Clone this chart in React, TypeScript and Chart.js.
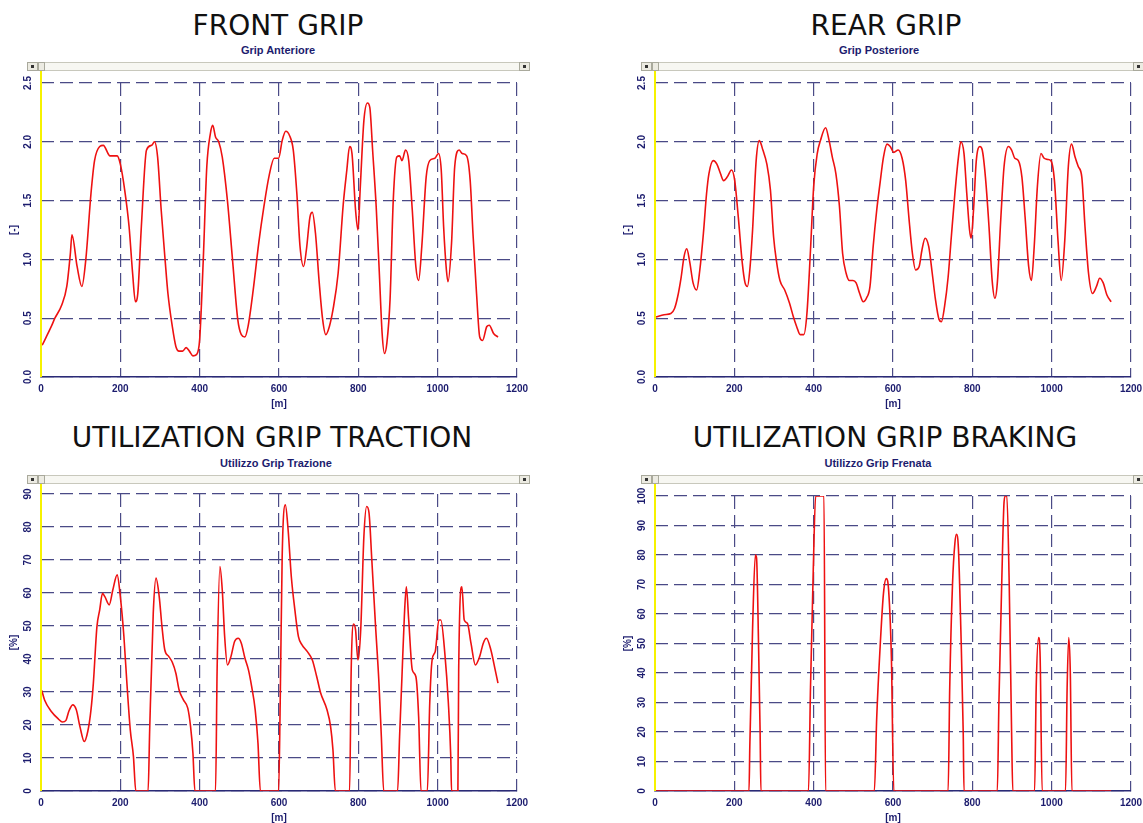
import React, { useEffect, useRef } from "react";
import { Chart, registerables } from "chart.js";

Chart.register(...registerables);

// ---------- data ----------
const xTickValues = [0, 200, 400, 600, 800, 1000, 1200];
const gripTicks = [0, 0.5, 1.0, 1.5, 2.0, 2.5];
const tractionTicks = [0, 10, 20, 30, 40, 50, 60, 70, 80, 90];
const brakingTicks = [0, 10, 20, 30, 40, 50, 60, 70, 80, 90, 100];

const frontDist = [
  3, 26, 35, 52, 65, 74, 78, 91, 103, 113,
  126, 135, 148, 157, 174, 192, 200, 211, 222, 231,
  238, 244, 253, 266, 279, 286, 294, 303, 313, 320,
  331, 340, 348, 357, 366, 374, 383, 392, 400, 409,
  418, 427, 433, 440, 448, 457, 470, 483, 496, 505,
  514, 522, 535, 549, 562, 575, 588, 599, 608, 617,
  627, 636, 645, 653, 662, 669, 678, 684, 692, 701,
  710, 718, 727, 736, 749, 762, 771, 778, 784, 793,
  799, 805, 814, 823, 829, 836, 845, 853, 860, 866,
  872, 880, 888, 897, 904, 910, 919, 927, 936, 945,
  952, 960, 971, 980, 993, 1002, 1009, 1015, 1022, 1026,
  1035, 1043, 1054, 1062, 1073, 1082, 1089, 1098, 1106, 1113,
  1124, 1130, 1141, 1152,
];
const frontGrip = [
  0.27, 0.43, 0.5, 0.61, 0.77, 1.05, 1.21, 0.94, 0.77, 1.0,
  1.56, 1.84, 1.96, 1.97, 1.88, 1.88, 1.81, 1.59, 1.28, 0.88,
  0.64, 0.71, 1.28, 1.93, 1.97, 2.0, 1.87, 1.42, 0.99, 0.71,
  0.43, 0.26, 0.22, 0.22, 0.25, 0.22, 0.18, 0.19, 0.32, 0.99,
  1.79, 2.07, 2.14, 2.04, 2.0, 1.87, 1.5, 0.99, 0.49, 0.36,
  0.34, 0.43, 0.74, 1.14, 1.45, 1.71, 1.86, 1.86, 2.01, 2.09,
  2.05, 1.93, 1.56, 1.11, 0.94, 1.08, 1.36, 1.4, 1.22, 0.82,
  0.49, 0.36, 0.43, 0.57, 0.88, 1.47, 1.76, 1.96, 1.9, 1.42,
  1.25, 1.62, 2.18, 2.33, 2.29, 1.93, 1.45, 0.88, 0.37, 0.2,
  0.29, 0.66, 1.5, 1.87, 1.88, 1.84, 1.93, 1.84, 1.42, 0.94,
  0.82, 1.11, 1.7, 1.84, 1.86, 1.9, 1.76, 1.28, 0.91, 0.81,
  1.14, 1.79, 1.93, 1.9, 1.88, 1.67, 1.22, 0.71, 0.34, 0.31,
  0.43, 0.44, 0.37, 0.34,
];

const rearDist = [
  2, 23, 40, 49, 57, 66, 73, 80, 87, 96,
  105, 113, 122, 130, 136, 147, 156, 165, 173, 182,
  193, 201, 210, 220, 227, 233, 239, 246, 255, 263,
  272, 282, 291, 299, 306, 315, 327, 339, 349, 357,
  366, 375, 383, 392, 400, 409, 417, 430, 439, 447,
  456, 465, 473, 482, 490, 499, 507, 516, 525, 533,
  542, 550, 559, 567, 576, 585, 593, 602, 613, 623,
  632, 640, 649, 657, 666, 673, 681, 690, 699, 707,
  716, 722, 730, 739, 747, 756, 765, 771, 779, 786,
  793, 797, 803, 810, 819, 825, 833, 842, 850, 857,
  863, 872, 880, 891, 899, 907, 916, 925, 933, 942,
  949, 956, 964, 973, 981, 990, 998, 1007, 1016, 1024,
  1033, 1042, 1050, 1059, 1067, 1076, 1084, 1093, 1103, 1113,
  1121, 1130, 1139, 1150,
];
const rearGrip = [
  0.51, 0.53, 0.54, 0.58, 0.68, 0.85, 1.02, 1.09, 0.99, 0.8,
  0.74, 0.91, 1.22, 1.56, 1.73, 1.84, 1.81, 1.73, 1.67, 1.7,
  1.76, 1.67, 1.36, 0.97, 0.8, 0.77, 0.91, 1.25, 1.84, 2.01,
  1.93, 1.81, 1.59, 1.19, 0.99, 0.82, 0.74, 0.63, 0.51, 0.43,
  0.36, 0.36, 0.54, 1.08, 1.62, 1.9, 2.01, 2.12, 2.01, 1.87,
  1.73, 1.45, 1.05, 0.88, 0.82, 0.82, 0.8, 0.71, 0.64, 0.67,
  0.77, 1.11, 1.42, 1.64, 1.87, 1.98, 1.96, 1.91, 1.93, 1.86,
  1.67, 1.36, 1.05, 0.91, 0.94, 1.08, 1.18, 1.11, 0.88, 0.66,
  0.49, 0.47, 0.6, 0.85, 1.19, 1.56, 1.87, 2.0, 1.9, 1.56,
  1.25, 1.18, 1.42, 1.84, 1.96, 1.93, 1.7, 1.28, 0.82, 0.67,
  0.8, 1.36, 1.79, 1.96, 1.93, 1.86, 1.84, 1.7, 1.36, 0.94,
  0.82, 1.11, 1.62, 1.9, 1.86, 1.85, 1.84, 1.67, 1.16, 0.82,
  1.16, 1.79, 1.98, 1.87, 1.79, 1.7, 1.28, 0.88, 0.71, 0.77,
  0.84, 0.8, 0.7, 0.64,
];

const tractionDist = [
  2, 9, 26, 44, 54, 63, 70, 80, 89, 98,
  109, 118, 126, 132, 141, 148, 155, 161, 172, 181,
  192, 200, 209, 216, 225, 233, 239, 270, 274, 283,
  290, 298, 305, 312, 322, 331, 340, 348, 359, 370,
  377, 383, 388, 440, 444, 451, 457, 463, 470, 479,
  488, 497, 505, 514, 523, 531, 540, 547, 553, 599,
  603, 608, 616, 623, 631, 640, 649, 658, 671, 684,
  695, 705, 721, 730, 736, 742, 778, 782, 788, 793,
  799, 806, 814, 821, 827, 834, 843, 852, 858, 864,
  899, 904, 910, 916, 921, 927, 936, 945, 952, 958,
  974, 980, 986, 994, 1003, 1008, 1018, 1027, 1033, 1035,
  1051, 1053, 1061, 1067, 1075, 1084, 1095, 1106, 1115, 1123,
  1134, 1145, 1152,
];
const tractionUse = [
  30.5, 27.6, 24.1, 21.8, 20.9, 21.4, 24.1, 26.1, 24.6, 19.6,
  15.0, 18.1, 24.6, 32.7, 49.8, 54.9, 59.9, 58.9, 56.4, 60.9,
  65.5, 58.9, 46.8, 33.7, 18.6, 10.5, 0, 0, 18.6, 53.9,
  64.5, 58.9, 49.8, 42.8, 40.8, 39.0, 35.7, 30.7, 27.6, 25.1,
  19.6, 11.5, 0, 0, 36.7, 68.0, 60.9, 46.8, 38.2, 40.8,
  45.3, 46.3, 44.8, 40.3, 36.7, 31.7, 24.6, 14.5, 0, 0,
  26.6, 71.0, 86.7, 79.1, 65.0, 54.9, 46.8, 44.3, 42.3, 39.7,
  34.7, 29.7, 24.6, 19.6, 12.5, 0, 0, 36.7, 50.6, 48.8,
  39.7, 48.8, 77.1, 86.2, 84.2, 70.0, 50.8, 32.7, 16.5, 0,
  0, 16.5, 34.7, 52.9, 61.9, 51.8, 36.7, 34.7, 22.6, 0,
  0, 26.6, 39.7, 42.3, 51.8, 51.8, 41.8, 26.6, 10.5, 0,
  0, 36.7, 61.9, 51.8, 50.8, 44.8, 38.2, 40.8, 44.8, 46.3,
  42.8, 36.7, 32.7,
];

const brakingDist = [
  0, 237, 239, 246, 253, 256, 261, 265, 267,
  387, 392, 399, 405, 426, 430,
  553, 559, 568, 576, 583, 589, 596, 602,
  739, 743, 750, 756, 760, 765, 771, 777, 779,
  863, 867, 874, 880, 883, 887, 893, 899, 902,
  957, 961, 967, 971, 976,
  1035, 1039, 1043, 1047, 1051, 1150,
];
const brakingUse = [
  0, 0, 15, 55, 80, 79, 50, 20, 0,
  0, 35, 75, 100, 100, 0,
  0, 25, 50, 67, 72, 68, 45, 0,
  0, 35, 70, 84, 87, 82, 55, 20, 0,
  0, 30, 70, 98, 100, 100, 70, 20, 0,
  0, 35, 52, 45, 0,
  0, 35, 52, 40, 0, 0,
];

// ---------- styles ----------
const RED = "#ee1111";
const GRID = "#4a4a86";
const AXIS = "#2a2a76";
const NAVY = "#1c1c6e";
const YELLOW = "#f6f200";
const TICK_FONT = "bold 10px 'Liberation Sans', Arial, sans-serif";
const DASH = [13, 6];

type PanelProps = {
  canvasLeft: number;
  canvasTop: number;
  canvasW: number;
  canvasH: number;
  plotLeft: number;
  plotRight: number;
  plotTop: number;
  plotBottom: number;
  xs: number[];
  ys: number[];
  yTicks: number[];
  decimals: number;
  yTitle: string;
};

function ChartPanel(p: PanelProps) {
  const ref = useRef<HTMLCanvasElement | null>(null);
  useEffect(() => {
    if (!ref.current) return;
    const leftW = p.plotLeft - p.canvasLeft;
    const padTop = p.plotTop - p.canvasTop;
    const padRight = p.canvasLeft + p.canvasW - p.plotRight;
    const bottomH = p.canvasTop + p.canvasH - p.plotBottom;
    const overlay = {
      id: "overlay",
      afterDatasetsDraw(chart: any) {
        const ctx = chart.ctx;
        const xs = chart.scales.x;
        const area = chart.chartArea;
        const x0 = xs.getPixelForValue(0);
        ctx.save();
        ctx.strokeStyle = YELLOW;
        ctx.lineWidth = 2;
        ctx.beginPath();
        ctx.moveTo(x0, 0);
        ctx.lineTo(x0, area.bottom);
        ctx.stroke();
        ctx.restore();
      },
      afterDraw(chart: any) {
        const ctx = chart.ctx;
        const xs = chart.scales.x;
        const ys = chart.scales.y;
        const area = chart.chartArea;
        ctx.save();
        ctx.fillStyle = NAVY;
        ctx.font = TICK_FONT;
        ctx.textAlign = "center";
        ctx.textBaseline = "middle";
        for (const v of p.yTicks) {
          const py = ys.getPixelForValue(v);
          ctx.save();
          ctx.translate(area.left - 13, py);
          ctx.rotate(-Math.PI / 2);
          ctx.fillText(v.toFixed(p.decimals), 0, 0);
          ctx.restore();
        }
        ctx.save();
        ctx.translate(area.left - 27, (area.top + area.bottom) / 2);
        ctx.rotate(-Math.PI / 2);
        ctx.fillText(p.yTitle, 0, 0);
        ctx.restore();
        for (const v of xTickValues) {
          ctx.fillText(String(v), xs.getPixelForValue(v), area.bottom + 12);
        }
        ctx.fillText("[m]", (area.left + area.right) / 2, area.bottom + 27);
        ctx.restore();
      },
    };
    const chart = new Chart(ref.current, {
      type: "line",
      data: {
        datasets: [
          {
            data: p.xs.map((x, i) => ({ x, y: p.ys[i] })),
            borderColor: RED,
            borderWidth: 1.6,
            pointRadius: 0,
            fill: false,
            cubicInterpolationMode: "monotone",
          } as any,
        ],
      },
      options: {
        animation: false,
        responsive: false,
        maintainAspectRatio: false,
        events: [],
        layout: { padding: { left: 0, top: padTop, right: padRight, bottom: 0 } },
        plugins: {
          legend: { display: false },
          tooltip: { enabled: false },
          title: { display: false },
        },
        scales: {
          x: {
            type: "linear",
            min: 0,
            max: 1200,
            afterBuildTicks: (s: any) => {
              s.ticks = xTickValues.map((v) => ({ value: v }));
            },
            ticks: { display: false },
            grid: { color: GRID, lineWidth: 1.2, drawTicks: false },
            border: { display: true, color: AXIS, width: 1.5, dash: DASH },
            afterFit: (s: any) => {
              s.height = bottomH;
            },
          },
          y: {
            type: "linear",
            min: p.yTicks[0],
            max: p.yTicks[p.yTicks.length - 1],
            afterBuildTicks: (s: any) => {
              s.ticks = p.yTicks.map((v) => ({ value: v }));
            },
            ticks: { display: false },
            grid: { color: GRID, lineWidth: 1.2, drawTicks: false },
            border: { display: false, dash: DASH },
            afterFit: (s: any) => {
              s.width = leftW;
            },
          },
        },
      } as any,
      plugins: [overlay],
    });
    return () => chart.destroy();
  }, []);
  return (
    <canvas
      ref={ref}
      width={p.canvasW}
      height={p.canvasH}
      style={{
        position: "absolute",
        left: p.canvasLeft,
        top: p.canvasTop,
        width: p.canvasW,
        height: p.canvasH,
        display: "block",
      }}
    />
  );
}

function Scrollbar({ left, top, width }: { left: number; top: number; width: number }) {
  const btn: React.CSSProperties = {
    position: "absolute",
    top: 0,
    width: 9,
    height: 7,
    background: "#ecebe2",
    border: "1px solid #a9a99c",
    boxSizing: "content-box",
  };
  const dot: React.CSSProperties = {
    position: "absolute",
    left: 3,
    top: 2,
    width: 3,
    height: 3,
    background: "#333",
  };
  return (
    <div
      style={{
        position: "absolute",
        left,
        top,
        width,
        height: 9,
        background: "#f7f7f2",
        borderTop: "1px solid #c8c8bc",
        borderBottom: "1px solid #c8c8bc",
        boxSizing: "border-box",
      }}
    >
      <div style={{ ...btn, left: 0, top: -1 }}>
        <div style={dot} />
      </div>
      <div style={{ ...btn, left: 11, top: -1, width: 5 }} />
      <div style={{ ...btn, right: 0, top: -1 }}>
        <div style={dot} />
      </div>
    </div>
  );
}

function Heading({ cx, top, text }: { cx: number; top: number; text: string }) {
  return (
    <div
      style={{
        position: "absolute",
        left: cx,
        top,
        transform: "translateX(-50%)",
        whiteSpace: "nowrap",
        fontFamily: "'DejaVu Sans', Verdana, sans-serif",
        fontSize: 28,
        lineHeight: "28px",
        color: "#111",
      }}
    >
      {text}
    </div>
  );
}

function Sub({ cx, top, text }: { cx: number; top: number; text: string }) {
  return (
    <div
      style={{
        position: "absolute",
        left: cx,
        top,
        transform: "translateX(-50%)",
        whiteSpace: "nowrap",
        fontFamily: "'Liberation Sans', Arial, sans-serif",
        fontWeight: "bold",
        fontSize: 11,
        lineHeight: "12px",
        color: NAVY,
      }}
    >
      {text}
    </div>
  );
}

export default function App() {
  return (
    <div
      style={{
        position: "absolute",
        left: 0,
        top: 0,
        width: 1143,
        height: 823,
        overflow: "hidden",
        background: "#ffffff",
      }}
    >
      <Heading cx={278} top={12} text="FRONT GRIP" />
      <Sub cx={278} top={44} text="Grip Anteriore" />
      <Scrollbar left={27} top={62} width={503} />
      <ChartPanel
        canvasLeft={0}
        canvasTop={71}
        canvasW={543}
        canvasH={342}
        plotLeft={41}
        plotRight={517}
        plotTop={83}
        plotBottom={377}
        xs={frontDist}
        ys={frontGrip}
        yTicks={gripTicks}
        decimals={1}
        yTitle="[-]"
      />

      <Heading cx={886} top={12} text="REAR GRIP" />
      <Sub cx={879} top={44} text="Grip Posteriore" />
      <Scrollbar left={641} top={62} width={503} />
      <ChartPanel
        canvasLeft={614}
        canvasTop={71}
        canvasW={529}
        canvasH={342}
        plotLeft={655}
        plotRight={1131}
        plotTop={83}
        plotBottom={377}
        xs={rearDist}
        ys={rearGrip}
        yTicks={gripTicks}
        decimals={1}
        yTitle="[-]"
      />

      <Heading cx={272} top={424} text="UTILIZATION GRIP TRACTION" />
      <Sub cx={276} top={457} text="Utilizzo Grip Trazione" />
      <Scrollbar left={27} top={475} width={503} />
      <ChartPanel
        canvasLeft={0}
        canvasTop={484}
        canvasW={543}
        canvasH={339}
        plotLeft={41}
        plotRight={517}
        plotTop={494}
        plotBottom={791}
        xs={tractionDist}
        ys={tractionUse}
        yTicks={tractionTicks}
        decimals={0}
        yTitle="[%]"
      />

      <Heading cx={885} top={424} text="UTILIZATION GRIP BRAKING" />
      <Sub cx={878} top={457} text="Utilizzo Grip Frenata" />
      <Scrollbar left={641} top={475} width={503} />
      <ChartPanel
        canvasLeft={614}
        canvasTop={484}
        canvasW={529}
        canvasH={339}
        plotLeft={655}
        plotRight={1131}
        plotTop={496}
        plotBottom={791}
        xs={brakingDist}
        ys={brakingUse}
        yTicks={brakingTicks}
        decimals={0}
        yTitle="[%]"
      />
    </div>
  );
}
